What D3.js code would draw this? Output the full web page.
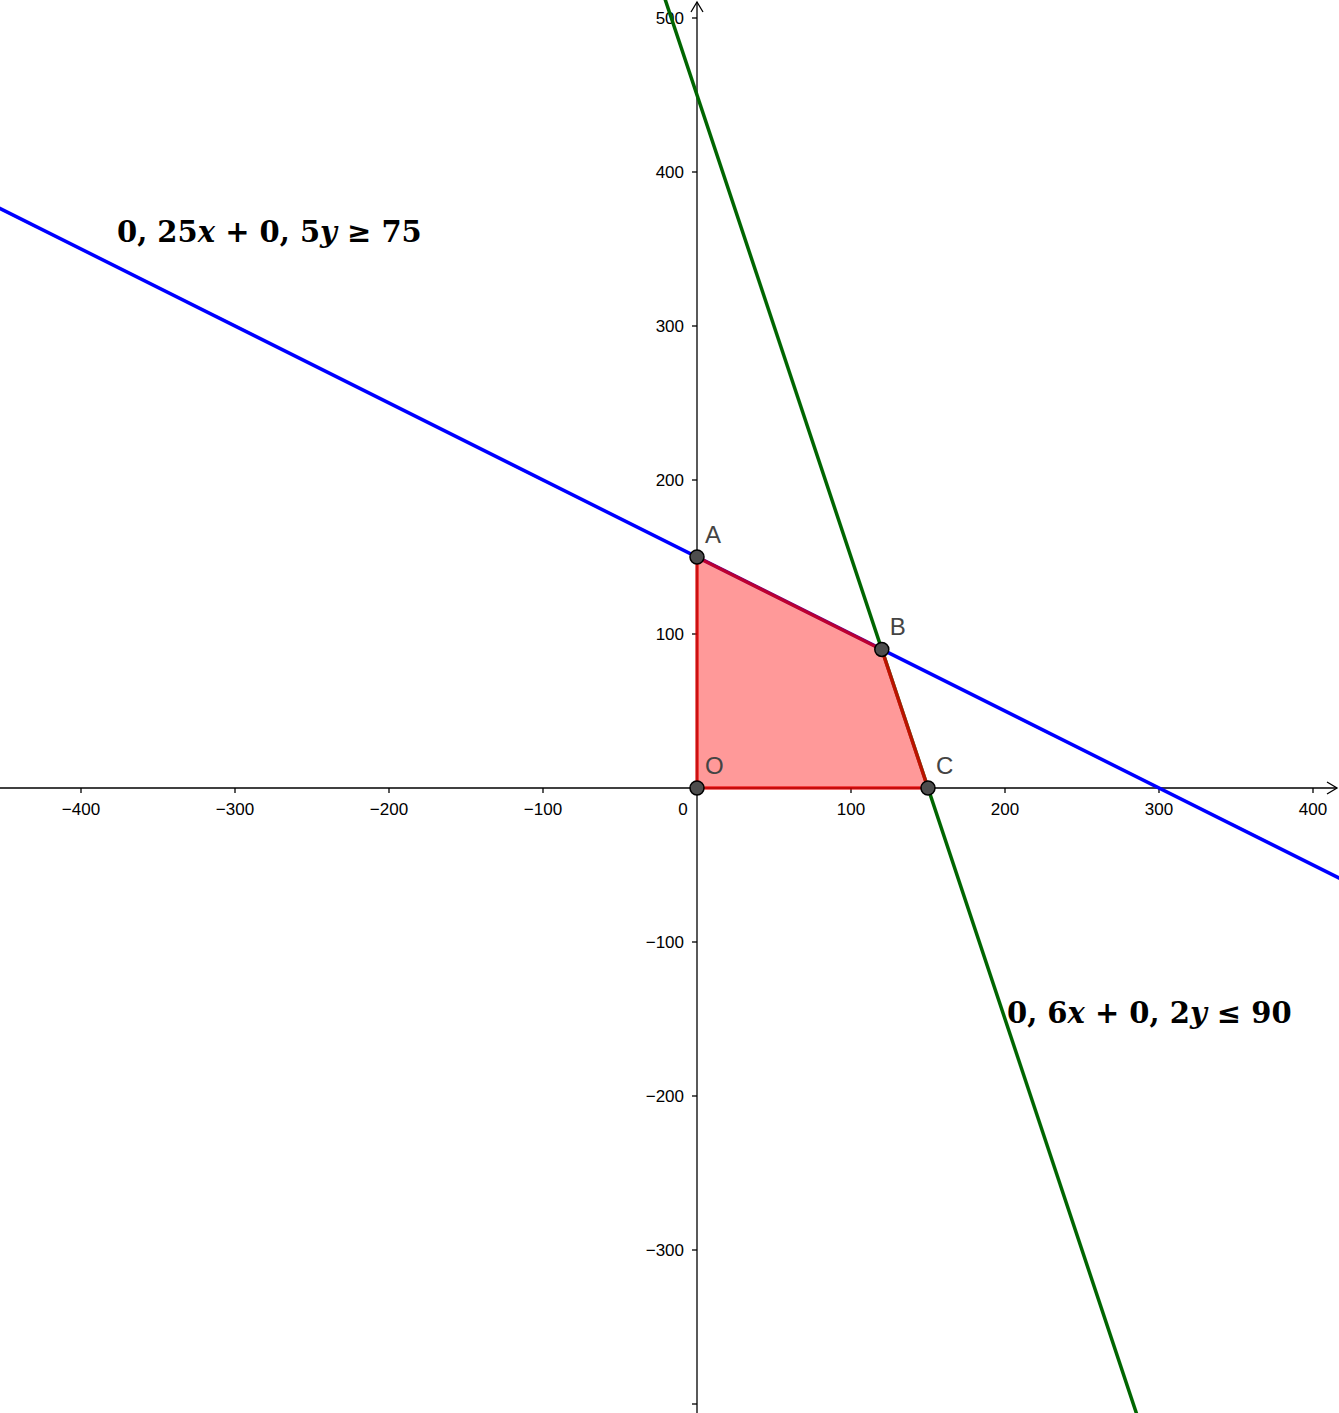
<!DOCTYPE html>
<html><head><meta charset="utf-8">
<script src="https://cdn.jsdelivr.net/npm/d3@7"></script>
<style>body{margin:0;background:#fff}svg{display:block}</style>
</head><body>
<svg id="c" width="1339" height="1413"></svg>
<script>
// data
var xTicks = [-400,-300,-200,-100,100,200,300,400];
var yTicks = [-300,-200,-100,100,200,300,400,500];
var blueLine = {a:0.25, b:0.5, c:75};   // 0,25x + 0,5y = 75
var greenLine = {a:0.6, b:0.2, c:90};   // 0,6x + 0,2y = 90
var points = [
  {name:"O", x:0, y:0},
  {name:"A", x:0, y:150},
  {name:"B", x:120, y:90},
  {name:"C", x:150, y:0}
];
var region = [[0,0],[0,150],[120,90],[150,0]];

var width = 1339, height = 1413;
var k = 1.54;
var x = d3.scaleLinear().domain([-697/k, (width-697)/k]).range([0, width]);
var y = d3.scaleLinear().domain([788/k, (788-height)/k]).range([0, height]);
var svg = d3.select('#c');

// axes
var ax = svg.append('g').attr('stroke','#000').attr('stroke-width',1.3).attr('fill','none');
ax.append('line').attr('x1',0).attr('x2',width-2).attr('y1',y(0)).attr('y2',y(0));
ax.append('path').attr('d',`M${width-12},${y(0)-6}L${width-2},${y(0)}L${width-12},${y(0)+6}`);
ax.append('line').attr('x1',x(0)).attr('x2',x(0)).attr('y1',2).attr('y2',height);
ax.append('path').attr('d',`M${x(0)-6},12L${x(0)},2L${x(0)+6},12`);
xTicks.forEach(function(t){ax.append('line').attr('x1',x(t)).attr('x2',x(t)).attr('y1',y(0)).attr('y2',y(0)+5);});
yTicks.concat([-400]).forEach(function(t){ax.append('line').attr('x1',x(0)-5).attr('x2',x(0)).attr('y1',y(t)).attr('y2',y(t));});

var fmt = function(t){return t<0 ? '\u2212'+(-t) : ''+t;};
var tl = svg.append('g').attr('font-family','Liberation Sans, Arial, sans-serif').attr('font-size',17).attr('fill','#000');
xTicks.forEach(function(t){tl.append('text').attr('x',x(t)).attr('y',y(0)+27).attr('text-anchor','middle').text(fmt(t));});
tl.append('text').attr('x',x(0)-14).attr('y',y(0)+27).attr('text-anchor','middle').text('0');
yTicks.forEach(function(t){tl.append('text').attr('x',x(0)-13).attr('y',y(t)+6).attr('text-anchor','end').text(fmt(t));});

// lines
function drawLine(L, color){
  var x0 = x.domain()[0]-50, x1 = x.domain()[1]+50;
  var f = function(v){return (L.c - L.a*v)/L.b;};
  svg.append('line').attr('x1',x(x0)).attr('y1',y(f(x0))).attr('x2',x(x1)).attr('y2',y(f(x1)))
    .attr('stroke',color).attr('stroke-width',3.5);
}
drawLine(blueLine,'#0000ff');
drawLine(greenLine,'#006600');

// feasible region
svg.append('path').attr('d','M'+region.map(function(p){return x(p[0])+','+y(p[1]);}).join('L')+'Z')
  .attr('fill','rgba(255,0,0,0.4)').attr('stroke','rgba(230,0,0,0.75)').attr('stroke-width',3.5);

// points
points.forEach(function(p){
  svg.append('circle').attr('cx',x(p.x)).attr('cy',y(p.y)).attr('r',7)
    .attr('fill','#4d4d4d').attr('stroke','#000').attr('stroke-width',1.5);
  svg.append('text').attr('x',x(p.x)+8).attr('y',y(p.y)-14)
    .attr('font-family','Liberation Sans, Arial, sans-serif').attr('font-size',24).attr('fill','#444').text(p.name);
});

// inequality labels
function label(px, py, parts){
  var t = svg.append('text').attr('x',px).attr('y',py).attr('font-family','DejaVu Serif, serif')
    .attr('font-weight','bold').attr('font-size',29).attr('fill','#000');
  parts.forEach(function(s){
    t.append('tspan').attr('font-style', s[1] ? 'italic' : 'normal').text(s[0]);
  });
}
label(117, 242, [['0, 25',0],['x',1],[' + 0, 5',0],['y',1],[' \u2265 75',0]]);
label(1007, 1023, [['0, 6',0],['x',1],[' + 0, 2',0],['y',1],[' \u2264 90',0]]);
</script>
</body></html>
